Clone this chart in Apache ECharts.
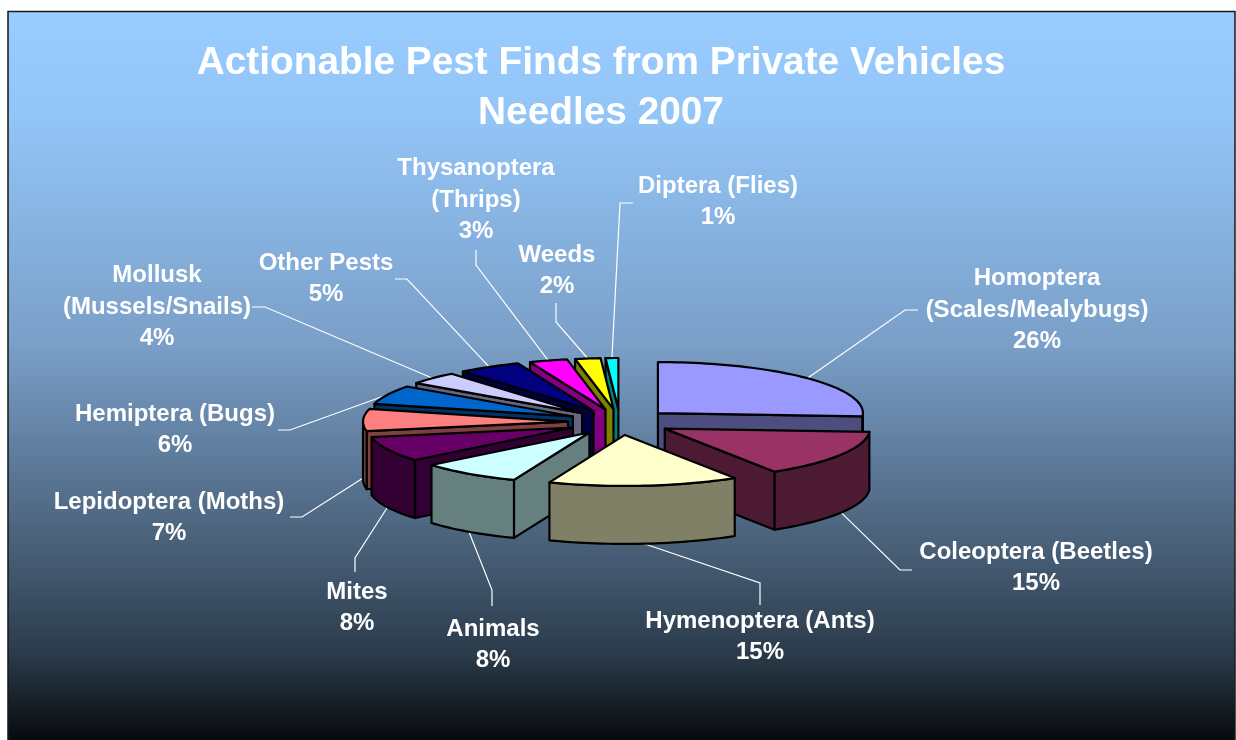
<!DOCTYPE html>
<html>
<head>
<meta charset="utf-8">
<title>Actionable Pest Finds from Private Vehicles</title>
<style>
  html, body { margin: 0; padding: 0; background: #fff; }
  #chart { width: 1236px; height: 740px; }
</style>
<script src="https://cdn.jsdelivr.net/npm/echarts@6/dist/echarts.min.js"></script>
</head>
<body>
<div id="chart"></div>
<script>
// Share of actionable finds, clockwise from twelve o'clock
const categories = [
  'Homoptera\n(Scales/Mealybugs)', 'Coleoptera (Beetles)', 'Hymenoptera (Ants)',
  'Animals', 'Mites', 'Lepidoptera (Moths)', 'Hemiptera (Bugs)',
  'Mollusk\n(Mussels/Snails)', 'Other Pests', 'Thysanoptera\n(Thrips)', 'Weeds', 'Diptera (Flies)'
];
const percents = [26, 15, 15, 8, 8, 7, 6, 4, 5, 3, 2, 1];

// Excel-style palette: top face and shaded side
const topColors = ['#9999FF', '#993366', '#FFFFCC', '#CCFFFF', '#660066', '#FF8080',
                   '#0066CC', '#CCCCFF', '#000080', '#FF00FF', '#FFFF00', '#00FFFF'];
const sideColors = ['#4D4D80', '#4D1A33', '#808066', '#668080', '#330033', '#804040',
                    '#003366', '#666680', '#000040', '#800080', '#808000', '#008080'];

// Pie projection
const PIE = { cx: 620, cy: 422, rx: 205, ry: 51, depth: 58, explode: 52, explodeY: 13 };

// Label centres and leader-line elbows, in slice order
const labelX = [1037, 1036, 760, 493, 357, 169, 175, 157, 326, 476, 557, 718];
const labelY = [310, 568, 637, 645, 608, 518, 430, 307, 279, 200, 271, 202];
const elbows = [
  [[905, 310], [918, 310]], [[900, 570], [912, 570]], [[760, 583], [760, 605]],
  [[492, 590], [492, 606]], [[355, 558], [355, 572]], [[302, 517], [290, 517]],
  [[290, 430], [278, 430]], [[265, 307], [252, 307]], [[407, 279], [395, 279]],
  [[476, 265], [476, 250]], [[556, 322], [556, 303]], [[620, 203], [633, 203]]
];

const TAU = Math.PI * 2;
const total = percents.reduce((a, b) => a + b, 0);
let running = 0;
const slices = percents.map((v, i) => {
  const start = running / total * TAU;
  running += v;
  const end = running / total * TAU;
  const mid = (start + end) / 2;
  return { index: i, value: v, start, end, mid,
           ax: PIE.cx + PIE.explode * Math.sin(mid),
           ay: PIE.cy - PIE.explodeY * Math.cos(mid) };
});

function rimPoint(s, angle, drop) {
  return [s.ax + PIE.rx * Math.sin(angle), s.ay - PIE.ry * Math.cos(angle) + (drop || 0)];
}
function arc(s, from, to) {
  const n = Math.max(2, Math.ceil((to - from) / 0.03));
  const pts = [];
  for (let k = 0; k <= n; k++) pts.push(rimPoint(s, from + (to - from) * k / n));
  return pts;
}
const lowered = pts => pts.map(p => [p[0], p[1] + PIE.depth]);

// Back slices are painted first so nearer slices overlap them
const paintOrder = slices.slice().sort((a, b) => Math.cos(b.mid) - Math.cos(a.mid));

function face(points, fill) {
  return {
    type: 'polygon',
    shape: { points },
    style: { fill, stroke: '#000', lineWidth: 2.2, lineJoin: 'round' }
  };
}

function renderSlice(params, api) {
  const s = slices[api.value(0)];
  const apex = [s.ax, s.ay];
  const outerA = rimPoint(s, s.start);
  const outerB = rimPoint(s, s.end);
  const children = [];
  // Straight cut faces, only where they turn toward the viewer
  if (Math.sin(s.end) > 0) {
    children.push(face([apex, outerB].concat(lowered([outerB, apex])), sideColors[s.index]));
  }
  if (Math.sin(s.start) < 0) {
    children.push(face([apex, outerA].concat(lowered([outerA, apex])), sideColors[s.index]));
  }
  // Curved rim on the near half of the ellipse
  const from = Math.max(s.start, Math.PI / 2);
  const to = Math.min(s.end, Math.PI * 1.5);
  if (to > from) {
    const edge = arc(s, from, to);
    children.push(face(edge.concat(lowered(edge).reverse()), sideColors[s.index]));
  }
  children.push(face([apex].concat(arc(s, s.start, s.end)), topColors[s.index]));
  return { type: 'group', children };
}

function renderLabel(params, api) {
  const i = api.value(0);
  const s = slices[i];
  // Leaders leave from the lower rim on slices that reach the near side
  const near = Math.cos(s.mid) < 0.1;
  const tail = rimPoint(s, s.mid, near ? PIE.depth : 0);
  return {
    type: 'group',
    children: [
      {
        type: 'polyline',
        shape: { points: [tail].concat(elbows[i]) },
        style: { fill: 'none', stroke: '#FFFFFF', lineWidth: 1.2 }
      },
      {
        type: 'text',
        style: {
          text: categories[i] + '\n' + api.value(1) + '%',
          x: labelX[i],
          y: labelY[i],
          fill: '#fff',
          font: 'bold 24px "Liberation Sans", Arial, sans-serif',
          lineHeight: 31.5,
          align: 'center',
          verticalAlign: 'middle'
        }
      }
    ]
  };
}

const chart = echarts.init(document.getElementById('chart'), null, { renderer: 'canvas' });
chart.setOption({
  animation: false,
  backgroundColor: '#fff',
  title: {
    text: 'Actionable Pest Finds from Private Vehicles\nNeedles 2007',
    left: 596,
    top: 33,
    textAlign: 'center',
    textStyle: {
      color: '#fff',
      fontFamily: '"Liberation Sans", Arial, sans-serif',
      fontWeight: 'bold',
      fontSize: 38.8,
      lineHeight: 50
    }
  },
  graphic: [{
    type: 'rect',
    z: -10,
    silent: true,
    shape: { x: 8, y: 11.5, width: 1227, height: 740 },
    style: {
      stroke: '#1A1A1A',
      lineWidth: 1.5,
      fill: {
        type: 'linear', x: 0, y: 0, x2: 0, y2: 1,
        colorStops: [
          { offset: 0, color: '#99CCFF' },
          { offset: 0.14, color: '#93C5F7' },
          { offset: 0.45, color: '#7A9FC8' },
          { offset: 0.75, color: '#435970' },
          { offset: 0.87, color: '#2A3A4A' },
          { offset: 0.99, color: '#06080A' }
        ]
      }
    }
  }],
  series: [
    {
      type: 'custom',
      coordinateSystem: 'none',
      silent: true,
      z: 2,
      renderItem: renderLabel,
      data: slices.map(s => [s.index, s.value])
    },
    {
      type: 'custom',
      coordinateSystem: 'none',
      silent: true,
      z: 3,
      renderItem: renderSlice,
      data: paintOrder.map(s => [s.index, s.value])
    }
  ]
});
</script>
</body>
</html>
